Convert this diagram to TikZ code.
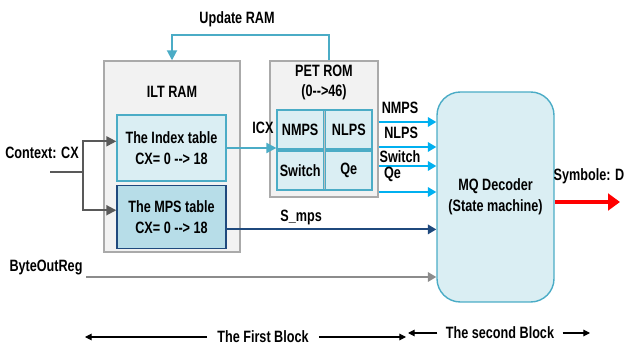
\documentclass[tikz,border=0pt]{standalone}
\usepackage{fontspec}
\setmainfont{Liberation Sans}[FakeStretch=0.77]
\usepackage{tikz}
\usetikzlibrary{arrows.meta,positioning,calc}
\definecolor{shellgray}{RGB}{242,242,242}
\definecolor{shelledge}{RGB}{170,170,170}
\definecolor{paleblue}{RGB}{218,238,243}
\definecolor{midblue}{RGB}{183,221,232}
\definecolor{tealline}{RGB}{75,172,198}
\definecolor{navyline}{RGB}{31,73,125}
\definecolor{skyline}{RGB}{0,176,240}
\definecolor{wiregray}{RGB}{89,89,89}
\definecolor{busgray}{RGB}{140,140,140}
\definecolor{cellgap}{RGB}{191,191,191}
\newcommand{\dashto}{\mbox{-}\mbox{-}>}
\tikzset{shell/.style={draw=shelledge, line width=1.2pt, fill=shellgray, inner sep=0pt}, tbox/.style={draw=tealline, line width=1.2pt, fill=paleblue, align=center, inner sep=0pt}, mbox/.style={draw=navyline, line width=1.2pt, fill=midblue, align=center, inner sep=0pt}, cell/.style={draw=tealline, line width=1pt, fill=paleblue, minimum width=1.39cm, minimum height=1.17cm, inner sep=0pt}, tag/.style={inner sep=1pt}, wire/.style={line width=1.6pt}, gedge/.style={wire, draw=wiregray, -{Triangle[length=3mm,width=3mm]}}, tedge/.style={wire, draw=tealline, -{Triangle[length=3mm,width=3mm]}}, sedge/.style={wire, draw=skyline, -{Triangle[length=2.5mm,width=2.8mm]}}, nedge/.style={wire, draw=navyline, -{Triangle[length=2.5mm,width=2.8mm]}}, bedge/.style={wire, draw=busgray, -{Triangle[length=2.5mm,width=2.8mm]}}, redge/.style={line width=3pt, draw=red, -{Triangle[length=3.6mm,width=5mm]}}, dimedge/.style={line width=0.9pt, -{Triangle[length=2mm,width=2mm]}}}

\begin{document}
\begin{tikzpicture}[x=0.3mm,y=-0.3mm,font=\fontsize{14}{17.5}\selectfont\bfseries]
\useasboundingbox (0,0) rectangle (624,347);
% ILT RAM with its two tables
\node[shell,minimum width=4.08cm,minimum height=5.73cm] (ilt) at (172,156.5) {};
\node[tag,anchor=base] (iltname) at (172,98) {ILT RAM};
\node[tbox,minimum width=3.27cm,minimum height=1.98cm] (idx) at (171.5,148) {The Index table\\CX= 0 \dashto{} 18};
\node[mbox,below=0.9mm of idx,minimum width=3.27cm,minimum height=1.89cm] (mps) {The MPS table\\CX= 0 \dashto{} 18};
% PET ROM and its 2x2 cells
\node[shell,minimum width=3.24cm,minimum height=4.08cm] (pet) at (324,129) {};
\node[tag,align=center] (petname) at (324,82.5) {PET ROM\\(0\dashto46)};
\node[draw=tealline,line width=1pt,fill=cellgap,minimum width=2.85cm,minimum height=2.4cm,inner sep=0pt] (grid) at (324.5,150) {};
\node[cell,anchor=north west] (nmps) at (grid.north west) {NMPS};
\node[cell,anchor=north east] (nlps) at (grid.north east) {NLPS};
\node[cell,anchor=south west] (swt) at (grid.south west) {Switch};
\node[cell,anchor=south east] (qe) at (grid.south east) {Qe};
% decoder
\node[tbox,rounded corners=7mm,minimum width=3.51cm,minimum height=6.3cm] (mq) at (495.5,197) {MQ Decoder\\(State machine)};
% free labels and wire ends
\node[tag,anchor=base] (updname) at (237,24) {Update RAM};
\node[tag,anchor=base] (ctxname) at (42,159) {Context: CX};
\node[tag,anchor=base] (borname) at (46,272) {ByteOutReg};
\node[tag,anchor=base] (symname) at (589,181) {Symbole: D};
\coordinate (ctx) at (50,172);
\coordinate (fork) at (83,172);
\coordinate (bor) at (86,277);
\coordinate (symtip) at (620,202);
% connectors
\draw[tedge] ([xshift=1.5mm]pet.north) -- ++(0,-25) -| (ilt.north);
\draw[wire,draw=wiregray] (ctx) -- (fork);
\draw[gedge] (fork) |- ([yshift=2mm]idx.west);
\draw[gedge] (fork) |- ([yshift=2mm]mps.west);
\draw[tedge] (idx.east) -- (idx.east -| grid.west) node[tag,pos=0.73,above=3.8mm] {ICX};
\foreach \dy/\txt/\up/\p in {2.1/NMPS/2/0.37, -5.4/NLPS/2/0.39, -11.1/Switch/0.3/0.37, -18.9/Qe/2.3/0.24}
  \draw[sedge] ([yshift=\dy mm]pet.east) -- ([yshift=\dy mm]pet.east -| mq.west) node[tag,pos=\p,above=\up mm] {\txt};
\draw[nedge] ([yshift=-3.75mm]mps.east) -- ([yshift=-3.75mm]mps.east -| mq.west) node[tag,pos=0.355,above=0.8mm] {S\_mps};
\draw[bedge] (bor) -- (bor -| mq.west);
\draw[redge] (mq.east |- symtip) -- (symtip);
% block spans along the bottom
\node[tag,inner xsep=3mm] (first) at (263,337) {The First Block};
\node[tag,inner xsep=2.5mm] (second) at (500,333) {The second Block};
\coordinate (b0) at (85,338);
\coordinate (b1) at (406,338);
\coordinate (b2) at (408,335);
\coordinate (b3) at (590,335);
\draw[dimedge] (first.west) -- (first.west -| b0);
\draw[dimedge] (first.east) -- (first.east -| b1);
\draw[dimedge] (second.west) -- (second.west -| b2);
\draw[dimedge] (second.east) -- (second.east -| b3);
\end{tikzpicture}
\end{document}
